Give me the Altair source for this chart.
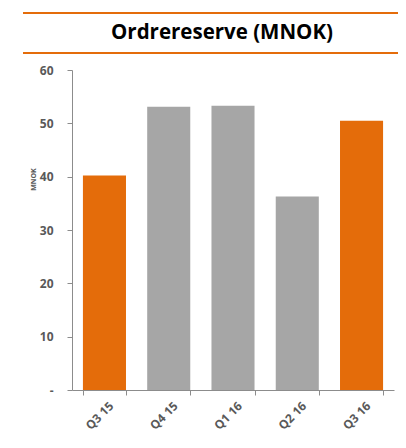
import altair as alt
import pandas as pd

quarters = ["Q3 15", "Q4 15", "Q1 16", "Q2 16", "Q3 16"]
values = [40.2, 53.1, 53.3, 36.3, 50.5]
highlight = ["yes", "no", "no", "no", "yes"]

df = pd.DataFrame({"q": quarters, "v": values, "h": highlight})

W, H = 322, 320
ORANGE = "#E46C0A"
GRAY = "#A6A6A6"

bars = alt.Chart(df).mark_bar().encode(
    x=alt.X("q:N", sort=quarters, title=None,
            scale=alt.Scale(paddingInner=0.33, paddingOuter=0.17),
            axis=alt.Axis(labelAngle=-45, labelAlign="right", labelBaseline="top",
                          labelFont="Open Sans", labelFontWeight="bold", labelFontSize=12,
                          labelColor="#595959", domainColor="#8c8c8c", tickColor="#8c8c8c",
                          tickBand="extent", tickSize=5, labelPadding=5, labelOffset=3)),
    y=alt.Y("v:Q", title="MNOK",
            scale=alt.Scale(domain=[0, 60], nice=False),
            axis=alt.Axis(values=[0, 10, 20, 30, 40, 50, 60], grid=False,
                          labelExpr="datum.value == 0 ? '-' : datum.label",
                          labelFont="Open Sans", labelFontWeight="bold", labelFontSize=12,
                          labelColor="#595959", domainColor="#8c8c8c", tickColor="#8c8c8c",
                          tickSize=5, labelPadding=14,
                          titleFont="Open Sans", titleFontSize=7, titleFontWeight="bold",
                          titleColor="#595959", titleX=-36, titleY=109, titleAngle=-90)),
    color=alt.Color("h:N", scale=alt.Scale(domain=["yes", "no"], range=[ORANGE, GRAY]), legend=None),
)

line_df = pd.DataFrame({"k": ["top", "bottom"]})
line_top = alt.Chart(line_df).transform_filter("datum.k == 'top'").mark_rule(color=ORANGE, strokeWidth=2).encode(
    x=alt.value(-49), x2=alt.value(326), y=alt.value(-57))
line_bot = alt.Chart(line_df).transform_filter("datum.k == 'bottom'").mark_rule(color=ORANGE, strokeWidth=2).encode(
    x=alt.value(-49), x2=alt.value(326), y=alt.value(-17))

title_df = pd.DataFrame({"t": ["Ordrereserve (MNOK)"]})
title = alt.Chart(title_df).mark_text(font="Open Sans", fontWeight="bold", fontSize=20.5,
                                      color="#000000", align="center", baseline="middle").encode(
    text="t:N", x=alt.value(150), y=alt.value(-37))

chart = alt.layer(bars, line_top, line_bot, title).properties(
    width=W, height=H,
    autosize=alt.AutoSizeParams(type="none"),
    padding={"left": 64, "top": 62, "right": 4, "bottom": 48},
).configure_view(stroke=None)

chart.save("out.html", embed_options={"renderer": "svg", "actions": False})
